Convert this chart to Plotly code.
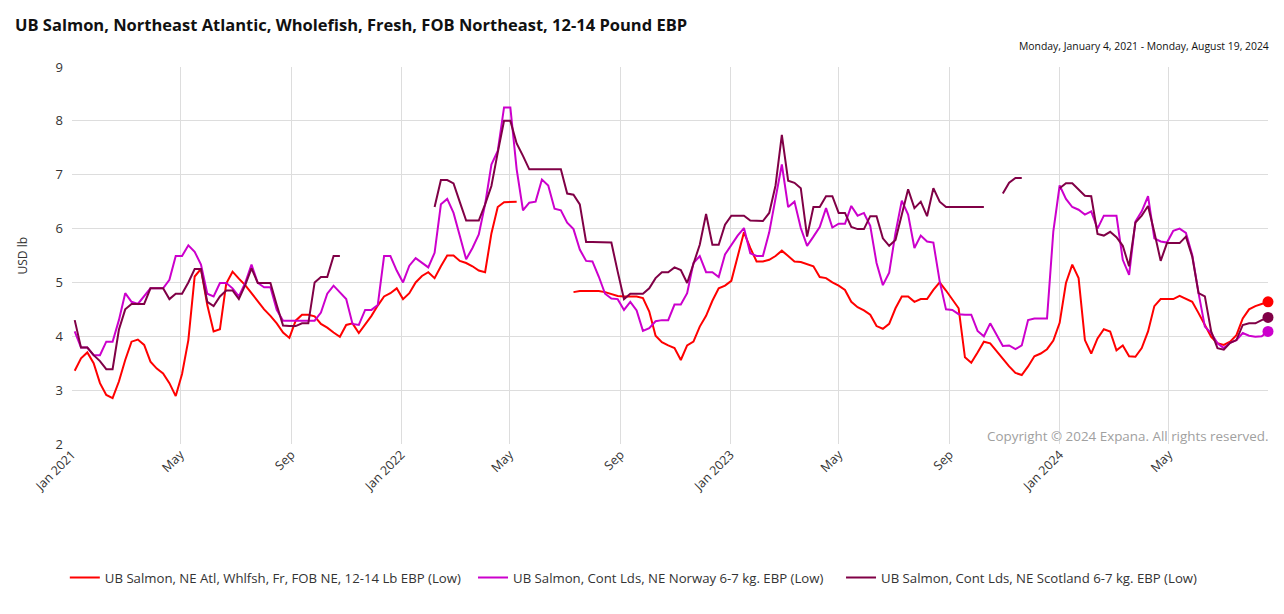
import pandas as pd
import plotly.graph_objects as go

start_date = "2021-01-04"
n_weeks = 190
dates = pd.date_range(start_date, periods=n_weeks, freq="7D")

ne_atl = [3.36, 3.59, 3.70, 3.50, 3.13, 2.91, 2.85, 3.16, 3.56, 3.90,
          3.94, 3.84, 3.53, 3.40, 3.31, 3.13, 2.89, 3.30, 3.93, 5.11,
          5.25, 4.58, 4.09, 4.13, 4.98, 5.20, 5.07, 4.95, 4.80, 4.64,
          4.50, 4.38, 4.24, 4.07, 3.97, 4.29, 4.40, 4.40, 4.37, 4.23,
          4.16, 4.07, 3.99, 4.21, 4.24, 4.06, 4.21, 4.38, 4.57, 4.74,
          4.80, 4.89, 4.69, 4.80, 5.00, 5.12, 5.19, 5.08, 5.30, 5.50,
          5.50, 5.40, 5.36, 5.30, 5.22, 5.19, 5.91, 6.40, 6.49, 6.50,
          6.50, None, None, None, None, None, None, None, None, 4.82,
          4.84, 4.84, 4.84, 4.84, 4.82, 4.78, 4.75, 4.74, 4.74, 4.74,
          4.71, 4.46, 4.01, 3.89, 3.83, 3.78, 3.56, 3.83, 3.90, 4.18,
          4.38, 4.66, 4.89, 4.94, 5.03, 5.48, 5.93, 5.64, 5.39, 5.39,
          5.42, 5.49, 5.59, 5.49, 5.39, 5.38, 5.34, 5.30, 5.10, 5.08,
          5.00, 4.94, 4.86, 4.64, 4.54, 4.48, 4.40, 4.19, 4.14, 4.23,
          4.52, 4.74, 4.74, 4.64, 4.69, 4.69, 4.86, 5.00, 4.85, 4.68,
          4.52, 3.61, 3.51, 3.70, 3.90, 3.87, 3.73, 3.57, 3.44, 3.32,
          3.28, 3.44, 3.63, 3.68, 3.76, 3.92, 4.25, 4.99, 5.33, 5.08,
          3.93, 3.68, 3.96, 4.13, 4.09, 3.74, 3.83, 3.63, 3.62, 3.78,
          4.09, 4.56, 4.69, 4.69, 4.69, 4.75, 4.70, 4.64, 4.43, 4.21,
          3.99, 3.87, 3.84, 3.90, 4.02, 4.33, 4.50, 4.56, 4.60, 4.64]

norway = [4.09, 3.79, 3.79, 3.65, 3.65, 3.90, 3.90, 4.30, 4.80, 4.64,
          4.60, 4.74, 4.89, 4.89, 4.89, 5.05, 5.49, 5.49, 5.69, 5.57,
          5.33, 4.79, 4.74, 4.99, 4.99, 4.89, 4.74, 4.99, 5.33, 4.99,
          4.91, 4.91, 4.49, 4.29, 4.29, 4.29, 4.29, 4.29, 4.29, 4.44,
          4.79, 4.94, 4.81, 4.69, 4.23, 4.21, 4.49, 4.49, 4.58, 5.49,
          5.49, 5.22, 5.00, 5.31, 5.45, 5.37, 5.28, 5.55, 6.45, 6.55,
          6.29, 5.86, 5.43, 5.64, 5.89, 6.45, 7.19, 7.44, 8.25, 8.25,
          7.10, 6.34, 6.48, 6.50, 6.91, 6.80, 6.37, 6.34, 6.11, 5.99,
          5.61, 5.40, 5.39, 5.11, 4.79, 4.70, 4.69, 4.49, 4.64, 4.48,
          4.10, 4.15, 4.28, 4.30, 4.30, 4.59, 4.59, 4.80, 5.36, 5.49,
          5.19, 5.19, 5.10, 5.52, 5.70, 5.87, 6.01, 5.54, 5.49, 5.49,
          5.93, 6.54, 7.19, 6.40, 6.50, 6.01, 5.68, 5.85, 6.03, 6.38,
          6.02, 6.09, 6.09, 6.42, 6.24, 6.29, 6.05, 5.36, 4.95, 5.18,
          5.92, 6.52, 6.26, 5.64, 5.87, 5.76, 5.74, 5.02, 4.50, 4.49,
          4.41, 4.40, 4.40, 4.10, 4.00, 4.24, 4.04, 3.82, 3.83, 3.76,
          3.83, 4.30, 4.33, 4.33, 4.33, 5.95, 6.80, 6.55, 6.40, 6.35,
          6.26, 6.32, 6.00, 6.24, 6.24, 6.24, 5.42, 5.14, 6.13, 6.32,
          6.60, 5.82, 5.76, 5.74, 5.96, 6.00, 5.92, 5.51, 4.80, 4.18,
          4.06, 3.87, 3.78, 3.88, 3.93, 4.06, 4.01, 3.99, 4.00, 4.09]

scotland = [4.30, 3.79, 3.79, 3.65, 3.54, 3.39, 3.39, 4.12, 4.50, 4.60,
            4.60, 4.60, 4.89, 4.89, 4.89, 4.69, 4.79, 4.79, 5.00, 5.25,
            5.25, 4.64, 4.56, 4.74, 4.85, 4.85, 4.69, 4.95, 5.26, 4.99,
            4.99, 4.99, 4.58, 4.20, 4.19, 4.19, 4.24, 4.24, 5.00, 5.10,
            5.10, 5.49, 5.49, None, None, None, None, None, None, None,
            None, None, None, None, None, None, None, 6.40, 6.90, 6.90,
            6.84, 6.49, 6.15, 6.15, 6.15, 6.45, 6.79, 7.41, 8.00, 8.00,
            7.58, 7.35, 7.10, 7.10, 7.10, 7.10, 7.10, 7.10, 6.65, 6.63,
            6.45, 5.75, 5.75, 5.75, 5.75, 5.74, 5.20, 4.69, 4.79, 4.79,
            4.79, 4.89, 5.08, 5.19, 5.19, 5.28, 5.23, 4.99, 5.36, 5.70,
            6.27, 5.70, 5.70, 6.07, 6.24, 6.24, 6.24, 6.15, 6.14, 6.14,
            6.29, 6.80, 7.74, 6.89, 6.85, 6.75, 5.85, 6.40, 6.40, 6.60,
            6.60, 6.29, 6.29, 6.03, 5.99, 5.99, 6.23, 6.23, 5.82, 5.68,
            5.79, 6.27, 6.73, 6.38, 6.50, 6.23, 6.75, 6.50, 6.40, 6.40,
            6.40, 6.40, 6.40, 6.40, 6.40, None, None, 6.65, 6.85, 6.94,
            6.94, None, None, None, None, None, 6.75, 6.84, 6.84, 6.73,
            6.61, 6.60, 5.90, 5.87, 5.94, 5.84, 5.68, 5.30, 6.11, 6.24,
            6.42, 5.93, 5.40, 5.73, 5.73, 5.73, 5.85, 5.48, 4.80, 4.74,
            4.09, 3.78, 3.75, 3.88, 3.93, 4.21, 4.24, 4.24, 4.30, 4.35]

series_names = [
    "UB Salmon, NE Atl, Whlfsh, Fr, FOB NE, 12-14 Lb EBP (Low)",
    "UB Salmon, Cont Lds, NE Norway 6-7 kg. EBP (Low)",
    "UB Salmon, Cont Lds, NE Scotland 6-7 kg. EBP (Low)",
]
series_colors = ["#ff0000", "#cc00cc", "#800046"]
legend_ids = ["legend", "legend2", "legend3"]
legend_x = [-0.006, 0.3353, 0.643]

tick_dates = ["2021-01-01", "2021-05-01", "2021-09-01", "2022-01-01", "2022-05-01",
              "2022-09-01", "2023-01-01", "2023-05-01", "2023-09-01", "2024-01-01",
              "2024-05-01"]
tick_labels = ["Jan 2021", "May", "Sep", "Jan 2022", "May", "Sep", "Jan 2023",
               "May", "Sep", "Jan 2024", "May"]

title_text = "UB Salmon, Northeast Atlantic, Wholefish, Fresh, FOB Northeast, 12-14 Pound EBP"
range_text = "Monday, January 4, 2021 - Monday, August 19, 2024"
copyright_text = "Copyright © 2024 Expana. All rights reserved."

FONT = "'Open Sans', Arial, sans-serif"

fig = go.Figure()
for name, vals, col, lg in zip(series_names, [ne_atl, norway, scotland], series_colors, legend_ids):
    fig.add_trace(go.Scatter(x=dates, y=vals, mode="lines", name=name, legend=lg,
                             line=dict(color=col, width=2), connectgaps=False))
for vals, col in zip([ne_atl, norway, scotland], series_colors):
    fig.add_trace(go.Scatter(x=[dates[-1]], y=[vals[-1]], mode="markers",
                             marker=dict(color=col, size=11), showlegend=False,
                             cliponaxis=False))

legend_common = dict(orientation="h", xanchor="left", y=-0.355, yanchor="middle",
                     font=dict(size=13.2, color="#333", family=FONT), itemwidth=30,
                     bgcolor="rgba(0,0,0,0)")

fig.update_layout(
    width=1268, height=598,
    margin=dict(l=64, r=8, t=59, b=162),
    paper_bgcolor="white", plot_bgcolor="white",
    font=dict(family=FONT, color="#333", size=12),
    title=dict(text="<b>" + title_text + "</b>", x=7 / 1268, xanchor="left",
               y=1 - 17 / 598, yanchor="middle",
               font=dict(size=16.5, color="#111", family=FONT)),
    xaxis=dict(type="date", range=["2021-01-01", "2024-08-19"],
               tickvals=tick_dates, ticktext=tick_labels, tickangle=-45,
               showgrid=True, gridcolor="#dddddd", gridwidth=1,
               showline=False, zeroline=False, ticks="",
               tickfont=dict(size=12.5, color="#333")),
    yaxis=dict(range=[2, 9], dtick=1, showgrid=True, gridcolor="#dddddd",
               gridwidth=1, zeroline=False, showline=False, ticks="",
               tickfont=dict(size=13, color="#333"), ticklabelstandoff=8),
    legend=dict(x=legend_x[0], **legend_common),
    legend2=dict(x=legend_x[1], **legend_common),
    legend3=dict(x=legend_x[2], **legend_common),
    showlegend=True,
)
fig.add_annotation(text=range_text, xref="paper", yref="paper", x=1, y=(444 - 46) / 377,
                   xanchor="right", yanchor="middle", showarrow=False, xshift=3,
                   font=dict(size=10.4, color="#111"))
fig.add_annotation(text="USD lb", xref="paper", yref="paper", x=(22 - 72) / 1196,
                   y=0.5, textangle=-90, xanchor="center", yanchor="middle",
                   showarrow=False, font=dict(size=12, color="#333"))
fig.add_annotation(text=copyright_text, xref="paper", yref="paper", x=1, y=(444 - 436) / 377,
                   xanchor="right", yanchor="middle", showarrow=False, xshift=2,
                   font=dict(size=13.4, color="#a0a0a0"))

fig.write_html("out.html")
